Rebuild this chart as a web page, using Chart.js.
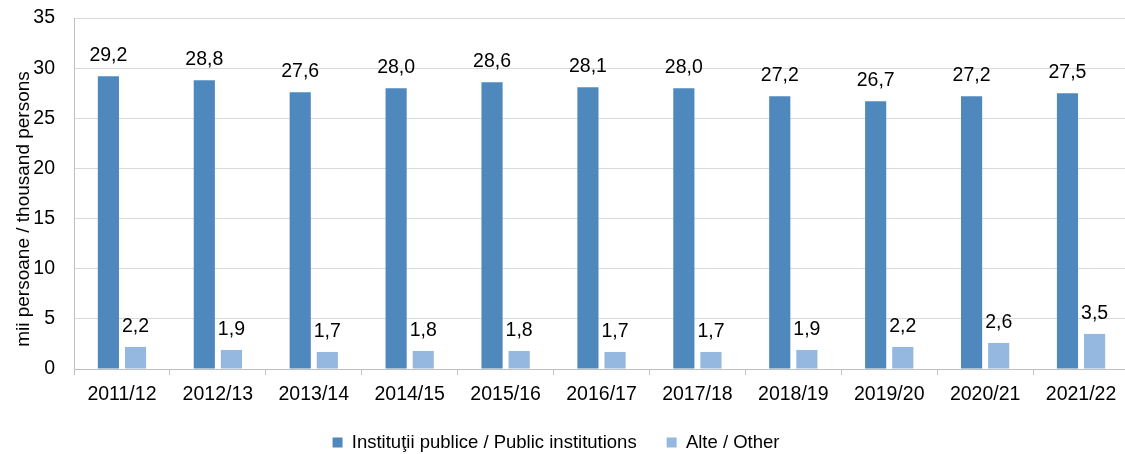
<!DOCTYPE html>
<html><head><meta charset="utf-8">
<script src="https://cdn.jsdelivr.net/npm/chart.js@4"></script>
<style>
html,body{margin:0;padding:0;overflow:hidden;background:#fff;width:1125px;height:454px}
#wrap{position:absolute;left:0;top:0;width:1129px;height:480px}
</style>
</head><body><div id="wrap"><canvas id="c" width="1129" height="480"></canvas></div>
<script>
const categories = ['2011/12','2012/13','2013/14','2014/15','2015/16','2016/17','2017/18','2018/19','2019/20','2020/21','2021/22'];
const publicInstitutions = [29.2, 28.8, 27.6, 28.0, 28.6, 28.1, 28.0, 27.2, 26.7, 27.2, 27.5];
const otherInstitutions = [2.2, 1.9, 1.7, 1.8, 1.8, 1.7, 1.7, 1.9, 2.2, 2.6, 3.5];
const seriesNames = ['Instituţii publice / Public institutions', 'Alte / Other'];
const yAxisTitle = 'mii persoane / thousand persons';
const yMin = 0, yMax = 35, yStep = 5;

const FONT = '"Liberation Sans", Arial, sans-serif';

const valueLabels = {
  id: 'valueLabels',
  afterDatasetsDraw(chart) {
    const ctx = chart.ctx;
    ctx.save();
    ctx.font = '19.5px ' + FONT;
    ctx.fillStyle = '#000';
    ctx.textAlign = 'center';
    ctx.textBaseline = 'alphabetic';
    chart.data.datasets.forEach((ds, i) => {
      chart.getDatasetMeta(i).data.forEach((bar, j) => {
        ctx.fillText(ds.data[j].toFixed(1).replace('.', ','), bar.x, bar.y - 15);
      });
    });
    ctx.restore();
  }
};

const layoutTweaks = {
  id: 'layoutTweaks',
  afterLayout(chart) {
    const lg = chart.legend;
    if (lg) { lg.left -= 14.5; lg.right -= 14.5; }
    const ys = chart.scales.y;
    if (ys && !ys._titleShifted) {
      const orig = ys.drawTitle;
      ys.drawTitle = function () {
        const t = this.top, b = this.bottom;
        this.top = t + 15.5; this.bottom = b + 15.5;
        orig.call(this);
        this.top = t; this.bottom = b;
      };
      ys._titleShifted = true;
    }
  }
};

new Chart(document.getElementById('c'), {
  type: 'bar',
  data: {
    labels: categories,
    datasets: [
      { label: seriesNames[0], data: publicInstitutions, backgroundColor: '#4f88bd', categoryPercentage: 0.5655, barPercentage: 0.78 },
      { label: seriesNames[1], data: otherInstitutions, backgroundColor: '#95b8e0', categoryPercentage: 0.5655, barPercentage: 0.78 }
    ]
  },
  options: {
    responsive: false,
    animation: false,
    devicePixelRatio: 1,
    layout: { padding: { left: 12, top: 18, right: 0, bottom: 18.25 } },
    plugins: {
      tooltip: { enabled: false },
      legend: {
        position: 'bottom',
        labels: {
          font: { family: FONT, size: 18.5 },
          color: '#000',
          boxWidth: 10,
          boxHeight: 10,
          padding: 30
        }
      }
    },
    scales: {
      x: {
        afterFit(scale) { scale.height = 34.25; },
        grid: { display: true, drawOnChartArea: false, tickLength: 6, color: '#bfbfbf', offset: true },
        border: { color: '#bfbfbf' },
        ticks: { font: { family: FONT, size: 19.5 }, color: '#000', padding: 8, maxRotation: 0, autoSkip: false }
      },
      y: {
        min: yMin, max: yMax,
        afterFit(scale) { scale.width = 62; scale.paddingTop = 0; scale.paddingBottom = 0; },
        grid: { color: '#d9d9d9', drawTicks: false },
        border: { color: '#bfbfbf' },
        ticks: { stepSize: yStep, font: { family: FONT, size: 19.5 }, color: '#000', padding: 19 },
        title: { display: true, text: yAxisTitle, font: { family: FONT, size: 19 }, color: '#000', padding: 0 }
      }
    }
  },
  plugins: [valueLabels, layoutTweaks]
});
</script>
</body></html>
